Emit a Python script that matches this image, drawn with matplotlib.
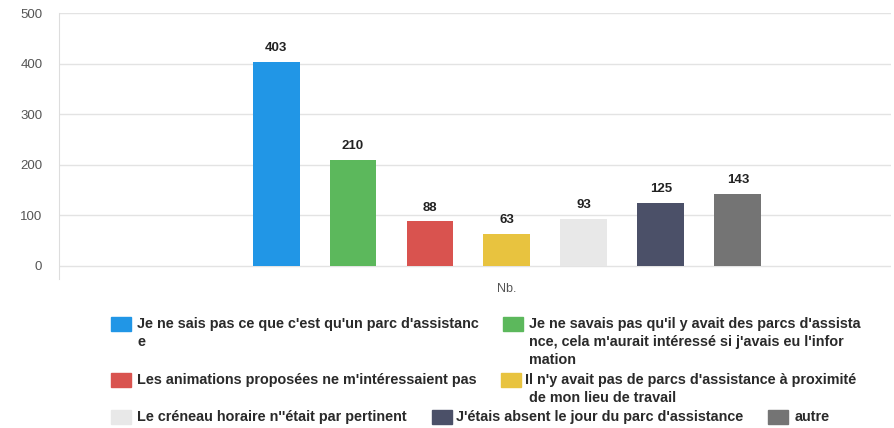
import matplotlib
matplotlib.use("Agg")
import matplotlib.pyplot as plt
from matplotlib.patches import Rectangle
import numpy as np

W, H = 894, 428

labels = [
    "Je ne sais pas ce que c'est qu'un parc d'assistanc\ne",
    "Je ne savais pas qu'il y avait des parcs d'assista\nnce, cela m'aurait intéressé si j'avais eu l'infor\nmation",
    "Les animations proposées ne m'intéressaient pas",
    "Il n'y avait pas de parcs d'assistance à proximité\n de mon lieu de travail",
    "Le créneau horaire n''était par pertinent",
    "J'étais absent le jour du parc d'assistance",
    "autre",
]
values = [403, 210, 88, 63, 93, 125, 143]
colors = ["#2196E6", "#5CB85C", "#D9534F", "#E8C33F", "#E8E8E8", "#4B5068", "#747474"]
category = "Nb."
yticks = [0, 100, 200, 300, 400, 500]

# legend layout in pixels: (square x, text x, row center y)
legend_pos = [
    (111, 137, 324),
    (503, 529, 324),
    (111, 137, 380),
    (501, 525, 380),
    (111, 137, 417),
    (432, 456, 417),
    (768, 795, 417),
]

plt.rcParams["font.family"] = ["Liberation Sans", "DejaVu Sans"]

fig = plt.figure(figsize=(W / 100, H / 100), dpi=100)
ax = fig.add_axes([59 / W, 1 - 279 / H, (891 - 59) / W, (279 - 13) / H])

offsets = np.arange(len(values)) - 3
bars = ax.bar(offsets, values, width=0.61, color=colors, zorder=2)
for b, v in zip(bars, values):
    ax.annotate(str(v), (b.get_x() + b.get_width() / 2, v), xytext=(0, 5.5),
                textcoords="offset points", ha="center", va="bottom",
                fontsize=9.5, fontweight="bold", color="#222222")

ax.set_xlim(-5.82, 4.99)
ax.set_ylim(-26, 500)
ax.set_yticks(yticks)
ax.set_xticks([0])
ax.set_xticklabels([category])
ax.tick_params(axis="y", length=0, pad=12, labelsize=9.5, labelcolor="#555555")
ax.tick_params(axis="x", length=0, pad=3, labelsize=9, labelcolor="#555555")
ax.grid(axis="y", color="#E3E3E3", linewidth=1, zorder=0)
for side in ["top", "right", "bottom"]:
    ax.spines[side].set_visible(False)
ax.spines["left"].set_color("#DDDDDD")

for (sx, tx, cy), lab, c in zip(legend_pos, labels, colors):
    fig.add_artist(Rectangle((sx / W, 1 - (cy + 7) / H), 20 / W, 14 / H,
                             transform=fig.transFigure, color=c))
    for i, line in enumerate(lab.split("\n")):
        fig.text(tx / W, 1 - (cy + i * 18) / H, line, ha="left", va="center",
                 fontsize=10.4, fontweight="bold", color="#2A2A2A")

fig.savefig("out.png", dpi=100, facecolor="white")
